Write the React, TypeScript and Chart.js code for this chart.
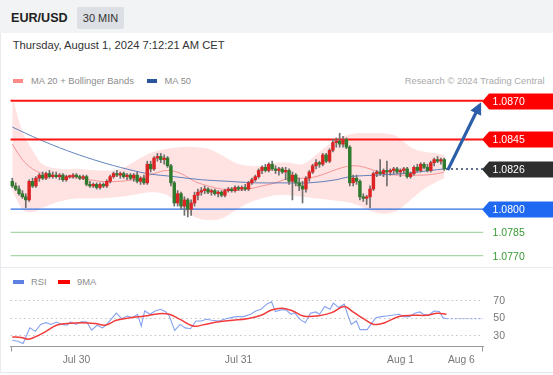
import React, { useEffect, useRef } from "react";
import { Chart, registerables } from "chart.js";

Chart.register(...registerables);

const FONT = "'Liberation Sans', Arial, sans-serif";

// ---------- price candles (30 min), index 0 = Jul 29 14:30 ----------
const candleOpen = [
  1.0818, 1.0815, 1.0813, 1.0810, 1.0808, 1.0806, 1.0818, 1.0815, 1.0820, 1.0822,
  1.0820, 1.0823, 1.0821, 1.0822, 1.0821, 1.0822, 1.0819, 1.0821, 1.0821, 1.0822,
  1.0821, 1.0820, 1.0821, 1.0816, 1.0815, 1.0816, 1.0814, 1.0816, 1.0815, 1.0818,
  1.0821, 1.0823, 1.0822, 1.0823, 1.0821, 1.0822, 1.0820, 1.0822, 1.0818, 1.0820,
  1.0817, 1.0829, 1.0826, 1.0833, 1.0834, 1.0832, 1.0833, 1.0828, 1.0817, 1.0804,
  1.0810, 1.0802, 1.0806, 1.0800, 1.0804, 1.0809, 1.0811, 1.0812, 1.0813, 1.0811,
  1.0812, 1.0810, 1.0811, 1.0809, 1.0812, 1.0813, 1.0812, 1.0814, 1.0813, 1.0814,
  1.0813, 1.0817, 1.0819, 1.0821, 1.0825, 1.0827, 1.0825, 1.0829, 1.0826, 1.0825,
  1.0826, 1.0824, 1.0825, 1.0818, 1.0822, 1.0817, 1.0815, 1.0813, 1.0820, 1.0824,
  1.0828, 1.0830, 1.0829, 1.0835, 1.0831, 1.0838, 1.0843, 1.0844, 1.0842, 1.0845,
  1.0840, 1.0817, 1.0820, 1.0818, 1.0808, 1.0807, 1.0808, 1.0813, 1.0823, 1.0824,
  1.0823, 1.0825, 1.0824, 1.0825, 1.0826, 1.0824, 1.0825, 1.0826, 1.0821, 1.0823,
  1.0827, 1.0825, 1.0829, 1.0827, 1.0825, 1.0830, 1.0832, 1.0831, 1.0832,
];
const candleHigh = [
  1.0820, 1.0817, 1.0815, 1.0812, 1.0810, 1.0819, 1.0820, 1.0821, 1.0823, 1.0824,
  1.0824, 1.0825, 1.0824, 1.0824, 1.0823, 1.0823, 1.0822, 1.0822, 1.0823, 1.0823,
  1.0822, 1.0822, 1.0822, 1.0818, 1.0817, 1.0817, 1.0817, 1.0817, 1.0819, 1.0822,
  1.0824, 1.0825, 1.0824, 1.0824, 1.0823, 1.0823, 1.0823, 1.0824, 1.0821, 1.0822,
  1.0831, 1.0831, 1.0834, 1.0836, 1.0836, 1.0835, 1.0834, 1.0829, 1.0818, 1.0812,
  1.0811, 1.0808, 1.0807, 1.0806, 1.0811, 1.0813, 1.0814, 1.0815, 1.0814, 1.0813,
  1.0813, 1.0812, 1.0812, 1.0813, 1.0814, 1.0814, 1.0815, 1.0815, 1.0815, 1.0816,
  1.0818, 1.0820, 1.0822, 1.0826, 1.0828, 1.0829, 1.0830, 1.0831, 1.0828, 1.0827,
  1.0827, 1.0827, 1.0826, 1.0824, 1.0823, 1.0820, 1.0818, 1.0821, 1.0825, 1.0829,
  1.0832, 1.0831, 1.0836, 1.0836, 1.0839, 1.0845, 1.0846, 1.0849, 1.0847, 1.0846,
  1.0841, 1.0822, 1.0822, 1.0819, 1.0810, 1.0809, 1.0815, 1.0824, 1.0825, 1.0832,
  1.0826, 1.0831, 1.0826, 1.0827, 1.0827, 1.0826, 1.0827, 1.0827, 1.0824, 1.0828,
  1.0829, 1.0830, 1.0830, 1.0829, 1.0831, 1.0833, 1.0834, 1.0833, 1.0833,
];
const candleLow = [
  1.0814, 1.0812, 1.0809, 1.0807, 1.0801, 1.0805, 1.0814, 1.0814, 1.0818, 1.0819,
  1.0819, 1.0820, 1.0820, 1.0820, 1.0819, 1.0818, 1.0818, 1.0820, 1.0820, 1.0820,
  1.0819, 1.0819, 1.0815, 1.0814, 1.0814, 1.0813, 1.0813, 1.0814, 1.0814, 1.0817,
  1.0820, 1.0821, 1.0820, 1.0820, 1.0819, 1.0819, 1.0818, 1.0817, 1.0816, 1.0816,
  1.0816, 1.0824, 1.0825, 1.0831, 1.0830, 1.0829, 1.0827, 1.0815, 1.0802, 1.0802,
  1.0800, 1.0796, 1.0795, 1.0796, 1.0802, 1.0806, 1.0809, 1.0810, 1.0810, 1.0809,
  1.0809, 1.0808, 1.0808, 1.0808, 1.0811, 1.0811, 1.0811, 1.0812, 1.0812, 1.0812,
  1.0812, 1.0816, 1.0818, 1.0820, 1.0823, 1.0824, 1.0824, 1.0825, 1.0823, 1.0822,
  1.0823, 1.0819, 1.0816, 1.0806, 1.0815, 1.0812, 1.0804, 1.0811, 1.0818, 1.0823,
  1.0826, 1.0827, 1.0828, 1.0830, 1.0830, 1.0837, 1.0840, 1.0840, 1.0840, 1.0839,
  1.0815, 1.0815, 1.0816, 1.0806, 1.0805, 1.0803, 1.0801, 1.0812, 1.0821, 1.0822,
  1.0821, 1.0815, 1.0822, 1.0823, 1.0823, 1.0821, 1.0823, 1.0820, 1.0820, 1.0822,
  1.0824, 1.0824, 1.0826, 1.0824, 1.0824, 1.0828, 1.0830, 1.0829, 1.0825,
];
const candleClose = [
  1.0815, 1.0813, 1.0810, 1.0808, 1.0806, 1.0818, 1.0815, 1.0820, 1.0822, 1.0820,
  1.0823, 1.0821, 1.0822, 1.0821, 1.0822, 1.0819, 1.0821, 1.0821, 1.0822, 1.0821,
  1.0820, 1.0821, 1.0816, 1.0815, 1.0816, 1.0814, 1.0816, 1.0815, 1.0818, 1.0821,
  1.0823, 1.0822, 1.0823, 1.0821, 1.0822, 1.0820, 1.0822, 1.0818, 1.0820, 1.0817,
  1.0829, 1.0826, 1.0833, 1.0834, 1.0832, 1.0833, 1.0828, 1.0817, 1.0804, 1.0810,
  1.0802, 1.0806, 1.0800, 1.0804, 1.0809, 1.0811, 1.0812, 1.0813, 1.0811, 1.0812,
  1.0810, 1.0811, 1.0809, 1.0812, 1.0813, 1.0812, 1.0814, 1.0813, 1.0814, 1.0813,
  1.0817, 1.0819, 1.0821, 1.0825, 1.0827, 1.0825, 1.0829, 1.0826, 1.0825, 1.0826,
  1.0824, 1.0825, 1.0818, 1.0822, 1.0817, 1.0815, 1.0813, 1.0820, 1.0824, 1.0828,
  1.0830, 1.0829, 1.0835, 1.0831, 1.0838, 1.0843, 1.0844, 1.0842, 1.0845, 1.0840,
  1.0817, 1.0820, 1.0818, 1.0808, 1.0807, 1.0808, 1.0813, 1.0823, 1.0824, 1.0823,
  1.0825, 1.0824, 1.0825, 1.0826, 1.0824, 1.0825, 1.0826, 1.0821, 1.0823, 1.0827,
  1.0825, 1.0829, 1.0827, 1.0825, 1.0830, 1.0832, 1.0831, 1.0832, 1.0826,
];

// ---------- MA20 + Bollinger bands, MA50 ----------
const bandIdx = [0, 3, 6, 9, 14, 20, 26, 32, 38, 42, 46, 50, 54, 58, 62, 66, 70, 74, 78, 82, 86, 90, 94, 98, 102, 106, 110, 114, 118, 122, 126, 128];
const bandUpper = [1.0873, 1.0850, 1.0838, 1.0829, 1.0826, 1.0826, 1.0825, 1.0826, 1.0833, 1.0837, 1.0839, 1.0840, 1.0840, 1.0839, 1.0835, 1.0830, 1.0828, 1.0828, 1.0830, 1.0830, 1.0829, 1.0835, 1.0842, 1.0847, 1.0849, 1.0849, 1.0849, 1.0847, 1.0840, 1.0837, 1.0836, 1.0835];
const bandLower = [1.0812, 1.0800, 1.0798, 1.0801, 1.0805, 1.0807, 1.0807, 1.0808, 1.0810, 1.0811, 1.0809, 1.0801, 1.0795, 1.0793, 1.0794, 1.0799, 1.0804, 1.0807, 1.0809, 1.0809, 1.0808, 1.0807, 1.0806, 1.0805, 1.0803, 1.0799, 1.0797, 1.0799, 1.0806, 1.0813, 1.0818, 1.0820];
const ma20 = [1.0842, 1.0832, 1.0826, 1.0823, 1.0821, 1.0820, 1.0818, 1.0818, 1.0820, 1.0823, 1.0825, 1.0823, 1.0818, 1.0815, 1.0813, 1.0812, 1.0813, 1.0815, 1.0817, 1.0820, 1.0820, 1.0821, 1.0824, 1.0827, 1.0828, 1.0826, 1.0823, 1.0822, 1.0822, 1.0822, 1.0823, 1.0824];
const ma50Idx = [0, 8, 16, 24, 32, 40, 48, 56, 64, 72, 80, 88, 96, 100, 108, 116, 124, 128];
const ma50 = [1.0853, 1.0845, 1.0838, 1.0832, 1.0827, 1.0823, 1.0821, 1.0819, 1.0818, 1.0817, 1.0817, 1.0817, 1.0819, 1.0821, 1.0822, 1.0823, 1.0825, 1.0826];

// ---------- key levels ----------
const levelValues = [1.087, 1.0845, 1.0826, 1.08, 1.0785, 1.077];
const levelKinds = ["resistance", "resistance", "current", "support", "target", "target"];
const arrowFrom = { idx: 129.2, price: 1.0826 };
const arrowTo = { idx: 138.9, price: 1.0869 };

// ---------- RSI panel ----------
const rsiIdx = [0, 1.6, 3.2, 5.2, 6.8, 8.4, 10, 11.5, 13.1, 14.7, 16.2, 17.3, 18.8, 20.4, 22, 23.5, 25.1, 26.7, 27.7, 29.3, 30.8, 32.4, 34, 35.6, 37.1, 38.2, 39.2, 40.8, 42.3, 43.9, 45.5, 46.5, 48.1, 49.7, 51.2, 52.8, 54.4, 56, 57.5, 59.1, 61.2, 63.3, 64.8, 66.4, 68.5, 70.6, 72.1, 73.7, 75.3, 76.8, 77.9, 79.5, 81, 82.6, 83.6, 85.2, 86.8, 88.3, 89.9, 91, 92.5, 94.1, 95.1, 96.7, 98.3, 99.3, 100.4, 101.9, 103, 105.1, 106.6, 107.7, 109.2, 110.8, 112.4, 114.5, 116, 117.6, 119.2, 120.7, 121.8, 123.3, 124.9, 126.5, 127.5, 128.6];
const rsiValues = [24.8, 23.6, 20.9, 39, 35, 43, 45, 43, 45.7, 43, 42, 46, 43, 46, 46, 36.4, 42, 39, 42, 49, 56, 49.6, 52.7, 50.8, 54.7, 41, 58.5, 54.7, 58.5, 60.5, 57.4, 52.7, 36, 43, 39, 38, 47, 47, 49, 47.7, 47, 49.6, 50.8, 52, 52, 54.7, 58.5, 60.5, 66.3, 69, 57.8, 59.7, 59.7, 54.7, 56.6, 48.8, 45, 55.8, 57.4, 54.7, 63.6, 60.5, 67.5, 62.4, 66.3, 54.7, 43, 47, 37, 37, 45, 50.8, 52, 52.7, 53.5, 54.7, 52, 52, 55.8, 57.4, 54.7, 53.5, 58.5, 57.8, 50.8, 49.6];
const ma9Idx = [0, 2.6, 4.7, 6.8, 10, 13.1, 16.2, 20.4, 24.6, 27.7, 30.8, 35, 39.2, 43.4, 46.5, 49.7, 53.8, 57, 61.2, 65.3, 69.5, 73.7, 76.8, 80, 83.1, 86.2, 90.4, 94.6, 98.3, 100.9, 104, 107.1, 110.3, 114.5, 118.6, 122.8, 125.9, 128.6];
const ma9Values = [28.6, 28, 26, 28.6, 35, 42, 44, 45, 44, 42.2, 47.7, 50.8, 52.7, 55.4, 54.7, 48.8, 41, 43, 46, 47.7, 49.6, 53.5, 59.7, 61.6, 58.5, 52.7, 52.7, 56.6, 63.6, 57.4, 49.6, 43, 45, 52, 53.5, 53.5, 55.8, 54.7];
const rsiTicks = [30, 50, 70];
const dateTickIdx = [19, 67, 115, 133];
const dateTickLabels = ["Jul 30", "Jul 31", "Aug 1", "Aug 6"];

// axis extents in candle-index units
const X_START = -0.5;
const X_END = 139.5;

const RED_UP = "#dd2424";
const GREEN_DN = "#2f7a2c";

const levelStyle: Record<string, { line: string; width: number; badge: string | null; text: string; dash?: number[] }> = {
  resistance: { line: "#ff1414", width: 2, badge: "#ff0000", text: "#ffffff" },
  current: { line: "#2a3f66", width: 1.5, badge: "#2e2e2e", text: "#ffffff", dash: [2, 3] },
  support: { line: "#2f6fe0", width: 1.3, badge: "#1f68f2", text: "#ffffff" },
  target: { line: "#aad7a8", width: 1.2, badge: null, text: "#3a9a36" },
};

const pts = (xs: number[], ys: number[]) => xs.map((x, i) => ({ x, y: ys[i] }));

const levelPlugin = {
  id: "levelBadges",
  afterDatasetsDraw(chart: any) {
    const { ctx, scales } = chart;
    const xs = scales.x;
    const ys = scales.y;
    // arrow
    const ax0 = xs.getPixelForValue(arrowFrom.idx);
    const ay0 = ys.getPixelForValue(arrowFrom.price);
    const ax1 = xs.getPixelForValue(arrowTo.idx);
    const ay1 = ys.getPixelForValue(arrowTo.price);
    const ang = Math.atan2(ay1 - ay0, ax1 - ax0);
    const headLen = 12;
    const headHalf = 6;
    ctx.save();
    ctx.strokeStyle = "#2c5ea9";
    ctx.fillStyle = "#2c5ea9";
    ctx.lineWidth = 3.2;
    ctx.lineCap = "round";
    ctx.beginPath();
    ctx.moveTo(ax0, ay0);
    ctx.lineTo(ax1 - Math.cos(ang) * (headLen - 2), ay1 - Math.sin(ang) * (headLen - 2));
    ctx.stroke();
    const bx = ax1 - Math.cos(ang) * headLen;
    const by = ay1 - Math.sin(ang) * headLen;
    ctx.beginPath();
    ctx.moveTo(ax1, ay1);
    ctx.lineTo(bx + Math.sin(ang) * headHalf, by - Math.cos(ang) * headHalf);
    ctx.lineTo(bx - Math.sin(ang) * headHalf, by + Math.cos(ang) * headHalf);
    ctx.closePath();
    ctx.fill();
    ctx.restore();

    // badges
    const xEndPx = xs.getPixelForValue(X_END);
    const right = chart.width;
    levelValues.forEach((v, k) => {
      const st = levelStyle[levelKinds[k]];
      const py = Math.round(ys.getPixelForValue(v)) + 0.5;
      ctx.save();
      if (st.badge) {
        ctx.fillStyle = st.badge;
        ctx.beginPath();
        ctx.moveTo(xEndPx - 1, py);
        ctx.lineTo(xEndPx + 6, py - 8);
        ctx.lineTo(right, py - 8);
        ctx.lineTo(right, py + 8);
        ctx.lineTo(xEndPx + 6, py + 8);
        ctx.closePath();
        ctx.fill();
      }
      ctx.fillStyle = st.text;
      ctx.font = `10.5px ${FONT}`;
      ctx.textBaseline = "middle";
      ctx.textAlign = "left";
      ctx.fillText(v.toFixed(4), xEndPx + 9.5, py + 0.5);
      ctx.restore();
    });
  },
};

const rsiAxisPlugin = {
  id: "rsiAxisEnds",
  afterDraw(chart: any) {
    const { ctx, chartArea } = chart;
    ctx.save();
    ctx.strokeStyle = "#9a9a9a";
    ctx.lineWidth = 1;
    ctx.beginPath();
    const b = Math.round(chartArea.bottom) + 0.5;
    ctx.moveTo(Math.round(chartArea.left) + 0.5, b);
    ctx.lineTo(Math.round(chartArea.left) + 0.5, b + 5);
    ctx.moveTo(Math.round(chartArea.right) - 0.5, b);
    ctx.lineTo(Math.round(chartArea.right) - 0.5, b + 5);
    ctx.stroke();
    ctx.restore();
  },
};

function PriceChart() {
  const ref = useRef<HTMLCanvasElement>(null);
  useEffect(() => {
    if (!ref.current) return;
    const n = candleClose.length;
    const idx = candleClose.map((_, i) => i);
    const bodies = idx.map((i) => ({ x: i, y: [candleOpen[i], candleClose[i]] }));
    const bodyColors = idx.map((i) => (candleClose[i] >= candleOpen[i] ? RED_UP : GREEN_DN));
    const wicks = idx.map((i) => ({ x: i, y: [candleLow[i], candleHigh[i]] }));

    const levelSets = levelValues.map((v, k) => {
      const st = levelStyle[levelKinds[k]];
      const startX = levelKinds[k] === "current" ? n - 0.5 : X_START;
      return {
        type: "line",
        data: [
          { x: startX, y: v },
          { x: X_END, y: v },
        ],
        borderColor: st.line,
        borderWidth: st.width,
        borderDash: st.dash || [],
        pointRadius: 0,
        fill: false,
        order: 3,
      };
    });

    const chart = new Chart(ref.current, {
      type: "bar",
      data: {
        datasets: [
          {
            type: "bar",
            data: bodies as any,
            backgroundColor: bodyColors,
            borderWidth: 0,
            barThickness: 2.8,
            minBarLength: 1,
            grouped: false,
            order: 0,
          },
          {
            type: "bar",
            data: wicks as any,
            backgroundColor: "#6f6f6f",
            borderWidth: 0,
            barThickness: 1,
            grouped: false,
            order: 1,
          },
          ...(levelSets as any[]),
          {
            type: "line",
            data: pts(ma50Idx, ma50),
            borderColor: "rgba(70,110,180,0.85)",
            borderWidth: 1,
            pointRadius: 0,
            tension: 0.35,
            fill: false,
            order: 4,
          },
          {
            type: "line",
            data: pts(bandIdx, ma20),
            borderColor: "rgba(244,140,140,0.9)",
            borderWidth: 1,
            pointRadius: 0,
            tension: 0.35,
            fill: false,
            order: 5,
          },
          {
            type: "line",
            data: pts(bandIdx, bandUpper),
            borderWidth: 0,
            borderColor: "rgba(0,0,0,0)",
            backgroundColor: "rgba(255,150,150,0.28)",
            pointRadius: 0,
            tension: 0.35,
            fill: "+1",
            order: 10,
          },
          {
            type: "line",
            data: pts(bandIdx, bandLower),
            borderWidth: 0,
            borderColor: "rgba(0,0,0,0)",
            pointRadius: 0,
            tension: 0.35,
            fill: false,
            order: 11,
          },
        ] as any,
      },
      options: {
        responsive: false,
        devicePixelRatio: 1,
        animation: false,
        events: [],
        layout: { padding: 0 },
        plugins: { legend: { display: false }, tooltip: { enabled: false } },
        scales: {
          x: { type: "linear", display: false, min: -3.6407, max: 160.211, offset: false },
          y: { type: "linear", display: false, min: 1.076529, max: 1.0878194 },
        },
      },
      plugins: [levelPlugin],
    });
    return () => chart.destroy();
  }, []);
  return <canvas ref={ref} width={553} height={175} style={{ position: "absolute", left: 0, top: 88, width: 553, height: 175 }} />;
}

function RsiChart() {
  const ref = useRef<HTMLCanvasElement>(null);
  useEffect(() => {
    if (!ref.current) return;
    const lastX = rsiIdx[rsiIdx.length - 1];
    const lastV = rsiValues[rsiValues.length - 1];
    const chart = new Chart(ref.current, {
      type: "line",
      data: {
        datasets: [
          {
            data: pts(ma9Idx, ma9Values),
            borderColor: "#f23b3b",
            borderWidth: 1.5,
            pointRadius: 0,
            tension: 0.4,
            order: 0,
          },
          {
            data: pts(rsiIdx, rsiValues),
            borderColor: "#86a3f0",
            borderWidth: 1.1,
            pointRadius: 0,
            tension: 0,
            order: 1,
          },
          {
            data: [
              { x: lastX, y: lastV },
              { x: X_END, y: lastV },
            ],
            borderColor: "#86a3f0",
            borderWidth: 1,
            borderDash: [2, 2],
            pointRadius: 0,
            order: 2,
          },
        ] as any,
      },
      options: {
        responsive: false,
        devicePixelRatio: 1,
        animation: false,
        events: [],
        layout: { padding: { left: 10.6, top: 24.3, right: 0, bottom: 0 } },
        plugins: { legend: { display: false }, tooltip: { enabled: false } },
        scales: {
          x: {
            type: "linear",
            min: X_START,
            max: X_END,
            offset: false,
            afterBuildTicks: (axis: any) => {
              axis.ticks = dateTickIdx.map((v) => ({ value: v }));
            },
            afterFit: (axis: any) => {
              axis.height = 25.9;
            },
            ticks: {
              autoSkip: false,
              maxRotation: 0,
              padding: 8,
              color: "#777",
              font: { family: FONT, size: 10.3 },
              callback: (v: any) => {
                const k = dateTickIdx.indexOf(Number(v));
                return k >= 0 ? dateTickLabels[k] : "";
              },
            },
            grid: { display: false, drawTicks: false },
            border: { display: true, color: "#9a9a9a", width: 1 },
          },
          y: {
            type: "linear",
            position: "right",
            min: 18,
            max: 80,
            afterBuildTicks: (axis: any) => {
              axis.ticks = rsiTicks.map((v) => ({ value: v }));
            },
            afterFit: (axis: any) => {
              axis.width = 69.7;
            },
            ticks: {
              padding: 10,
              color: "#777",
              font: { family: FONT, size: 10.5 },
            },
            grid: { color: "#c4c4c4", lineWidth: 1, drawTicks: false, tickLength: 0 },
            border: { display: false, dash: [1.5, 3] },
          },
        },
      },
      plugins: [rsiAxisPlugin],
    });
    return () => chart.destroy();
  }, []);
  return <canvas ref={ref} width={553} height={104} style={{ position: "absolute", left: 0, top: 268, width: 553, height: 104 }} />;
}

const legendText: React.CSSProperties = {
  position: "absolute",
  fontFamily: FONT,
  fontSize: 9.4,
  lineHeight: "12px",
  color: "#8d8d8d",
  whiteSpace: "nowrap",
};

export default function App() {
  return (
    <div
      style={{
        position: "absolute",
        left: 0,
        top: 0,
        width: 553,
        height: 375,
        background: "#ffffff",
        overflow: "hidden",
        fontFamily: FONT,
      }}
    >
      {/* header */}
      <div style={{ position: "absolute", left: 0, top: 0, width: 553, height: 33, background: "#f2f3f5" }} />
      <div
        style={{
          position: "absolute",
          left: 11,
          top: 7,
          height: 22,
          lineHeight: "22px",
          fontSize: 12.6,
          fontWeight: "bold",
          color: "#222",
          whiteSpace: "nowrap",
        }}
      >
        EUR/USD
      </div>
      <div
        style={{
          position: "absolute",
          left: 77,
          top: 7,
          width: 47,
          height: 22,
          lineHeight: "22px",
          textAlign: "center",
          fontSize: 11,
          color: "#333",
          background: "#dcdfe3",
          borderRadius: 2,
          whiteSpace: "nowrap",
        }}
      >
        30 MIN
      </div>
      {/* left frame line */}
      <div style={{ position: "absolute", left: 0, top: 33, width: 1, height: 340, background: "#e8ebef" }} />
      <div
        style={{
          position: "absolute",
          left: 12.7,
          top: 38.4,
          lineHeight: "14px",
          fontSize: 11.2,
          color: "#333",
          whiteSpace: "nowrap",
        }}
      >
        Thursday, August 1, 2024 7:12:21 AM CET
      </div>

      {/* main legend */}
      <div style={{ position: "absolute", left: 12.7, top: 79, width: 10, height: 3.6, background: "#ff8a8a" }} />
      <div style={{ ...legendText, left: 31, top: 74.8 }}>MA 20 + Bollinger Bands</div>
      <div style={{ position: "absolute", left: 146.7, top: 79, width: 10.6, height: 3.6, background: "#2b569a" }} />
      <div style={{ ...legendText, left: 164.5, top: 74.8 }}>MA 50</div>
      <div style={{ ...legendText, right: 553 - 544.5, top: 74.8, color: "#aaaaaa" }}>Research © 2024 Trading Central</div>

      <PriceChart />

      {/* separator */}
      <div style={{ position: "absolute", left: 0, top: 266.5, width: 553, height: 1.5, background: "#e6e9ee" }} />

      {/* RSI legend */}
      <div style={{ position: "absolute", left: 13, top: 280.2, width: 11, height: 3.6, background: "#5d80e3" }} />
      <div style={{ ...legendText, left: 31, top: 276 }}>RSI</div>
      <div style={{ position: "absolute", left: 58, top: 280.2, width: 11.5, height: 3.6, background: "#ff0000" }} />
      <div style={{ ...legendText, left: 77, top: 276 }}>9MA</div>

      <RsiChart />

      {/* bottom frame line */}
      <div style={{ position: "absolute", left: 0, top: 372, width: 553, height: 1, background: "#e6e9ee" }} />
    </div>
  );
}
